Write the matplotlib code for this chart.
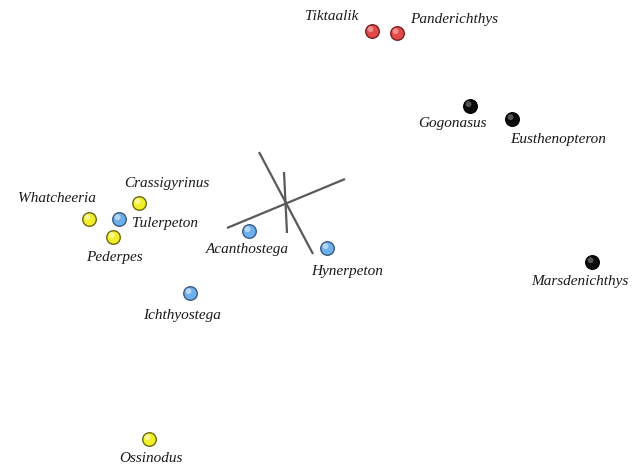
import matplotlib.pyplot as plt

# ordination scores (screen-like units, y grows downward)
taxa = ['Tiktaalik', 'Panderichthys', 'Gogonasus', 'Eusthenopteron', 'Marsdenichthys',
        'Whatcheeria', 'Crassigyrinus', 'Tulerpeton', 'Pederpes',
        'Acanthostega', 'Hynerpeton', 'Ichthyostega', 'Ossinodus']
score_x = [372, 397, 470, 512, 592, 89, 139, 119, 113, 249, 327, 190, 149]
score_y = [31, 33, 106, 119, 262, 219, 203, 219, 237, 231, 248, 293, 439]
group = ['red', 'red', 'black', 'black', 'black',
         'yellow', 'yellow', 'blue', 'yellow',
         'blue', 'blue', 'blue', 'yellow']

# label anchors (centre of text)
label_x = [332, 454, 452, 558, 580, 57, 167, 165, 114, 247, 347, 182, 151]
label_y = [16, 19, 124, 140, 282, 198, 183, 223, 258, 249, 271, 316, 458]

# variable loading vectors drawn through the origin
loading_x0 = [259, 227, 284]
loading_y0 = [152, 228, 172]
loading_x1 = [313, 345, 287]
loading_y1 = [254, 179, 233]

fill = {'red': '#e04a4a', 'black': '#0a0a0a', 'yellow': '#f0ef2a', 'blue': '#6eb0ec'}
edge = {'red': '#7a2020', 'black': '#000000', 'yellow': '#6e6a10', 'blue': '#3a5a80'}
shine = {'red': '#f4a0a0', 'black': '#666666', 'yellow': '#fbfbb0', 'blue': '#c8e2fa'}

fig = plt.figure(figsize=(6.44, 4.68), dpi=100)
ax = fig.add_axes([0, 0, 1, 1])
ax.set_xlim(0, 644)
ax.set_ylim(468, 0)
ax.axis('off')

for a, b, c, d in zip(loading_x0, loading_y0, loading_x1, loading_y1):
    ax.plot([a, c], [b, d], color='#5a5a5a', linewidth=1.6, solid_capstyle='butt')

for x, y, g in zip(score_x, score_y, group):
    ax.scatter(x, y, s=95, color=fill[g], edgecolors=edge[g], linewidths=1.0, zorder=3)
    ax.scatter(x - 1.5, y - 1.8, s=18, color=shine[g], edgecolors='none', alpha=0.8, zorder=4)

for name, x, y in zip(taxa, label_x, label_y):
    ax.text(x, y, name, ha='center', va='center', fontsize=11, style='italic',
            family='Liberation Serif', color='#1a1a1a')

fig.savefig('out.png', dpi=100)
